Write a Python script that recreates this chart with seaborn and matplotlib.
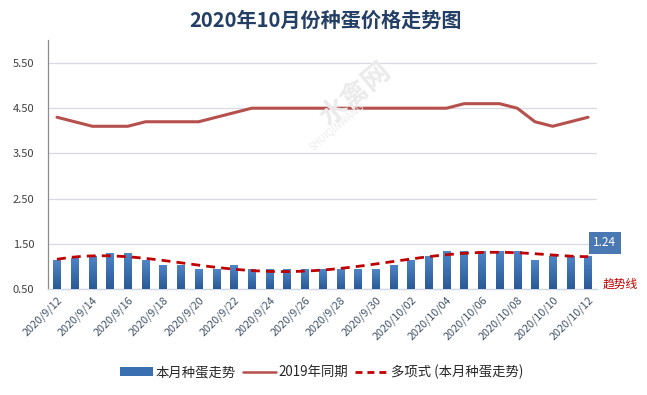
import numpy as np
import pandas as pd
import matplotlib
matplotlib.use("Agg")
import matplotlib.pyplot as plt
import seaborn as sns
from matplotlib.colors import LinearSegmentedColormap
from matplotlib.patches import Patch
from matplotlib.lines import Line2D

# ---- data ----
dates = ["2020/9/12", "2020/9/13", "2020/9/14", "2020/9/15", "2020/9/16", "2020/9/17",
         "2020/9/18", "2020/9/19", "2020/9/20", "2020/9/21", "2020/9/22", "2020/9/23",
         "2020/9/24", "2020/9/25", "2020/9/26", "2020/9/27", "2020/9/28", "2020/9/29",
         "2020/9/30", "2020/10/01", "2020/10/02", "2020/10/03", "2020/10/04", "2020/10/05",
         "2020/10/06", "2020/10/07", "2020/10/08", "2020/10/09", "2020/10/10", "2020/10/11",
         "2020/10/12"]
this_month = [1.14, 1.19, 1.24, 1.30, 1.30, 1.14, 1.04, 1.04, 0.94, 0.94, 1.04, 0.94,
              0.94, 0.94, 0.94, 0.94, 0.94, 0.94, 0.94, 1.04, 1.14, 1.24, 1.34, 1.34,
              1.34, 1.34, 1.34, 1.14, 1.24, 1.24, 1.24]
last_year = [4.3, 4.2, 4.1, 4.1, 4.1, 4.2, 4.2, 4.2, 4.2, 4.3, 4.4, 4.5, 4.5, 4.5,
             4.5, 4.5, 4.5, 4.5, 4.5, 4.5, 4.5, 4.5, 4.5, 4.6, 4.6, 4.6, 4.5, 4.2,
             4.1, 4.2, 4.3]
ytick_vals = [0.5, 1.5, 2.5, 3.5, 4.5, 5.5]
title = "2020年10月份种蛋价格走势图"
legend_labels = ["本月种蛋走势", "2019年同期", "多项式 (本月种蛋走势)"]
last_label = "1.24"
trend_text = "趋势线"

df = pd.DataFrame({"date": dates, "price": this_month, "ly": last_year})
df["idx"] = np.arange(len(df))

sns.set_theme(style="white")
plt.rcParams["font.family"] = ["Noto Sans CJK SC", "DejaVu Sans"]

YMIN, YMAX = 0.5, 6.0

fig = plt.figure(figsize=(6.47, 3.95), dpi=100)
ax = fig.add_axes([0.0744, 0.2684, 0.8482, 0.6293])

# bars
sns.barplot(data=df, x="date", y="price", color="#3a6fb2", width=0.42,
            ax=ax, zorder=3, saturation=1)

# gradient fill for bars
cmap = LinearSegmentedColormap.from_list("g", ["#2a5996", "#4f86c8"])
grad = np.linspace(0, 1, 64).reshape(-1, 1)
for p in list(ax.patches):
    x0, y0 = p.get_x(), p.get_y()
    w, h = p.get_width(), p.get_height()
    lo = max(y0, YMIN)
    im = ax.imshow(grad, extent=[x0, x0 + w, lo, y0 + h], origin="lower",
                   cmap=cmap, aspect="auto", zorder=3.1)
    im.set_clip_path(p)

# last year's line
sns.lineplot(data=df, x="idx", y="ly", color="#b5504d", lw=2.2, ax=ax, zorder=4)

# polynomial trendline
sns.regplot(data=df, x="idx", y="price", order=6, ci=None, scatter=False,
            truncate=True, ax=ax,
            line_kws=dict(color="#c00000", lw=2.0, ls=(0, (3.2, 2.2)), zorder=5))

ax.set_xlim(-0.5, len(dates) - 0.5)
ax.set_ylim(YMIN, YMAX)
ax.set_yticks(ytick_vals)
ax.set_yticklabels([f"{v:.2f}" for v in ytick_vals], fontsize=8, color="#404040")
ax.set_xticks(np.arange(0, len(dates), 2))
ax.set_xticklabels(dates[::2], rotation=45, ha="right", va="top",
                   rotation_mode="anchor", fontsize=7.8, color="#44546a")
ax.tick_params(axis="both", length=0, pad=4)
ax.tick_params(axis="y", pad=10)
ax.set_xlabel("")
ax.set_ylabel("")
ax.grid(axis="y", color="#d9d9e4", lw=0.9, zorder=0)
ax.set_axisbelow(True)
for s in ["top", "right"]:
    ax.spines[s].set_visible(False)
ax.spines["left"].set_color("#8c8c8c")
ax.spines["left"].set_linewidth(0.9)
ax.spines["bottom"].set_color("#d0d8e8")
ax.spines["bottom"].set_linewidth(1.0)

# data label for last bar
ax.text(len(dates) - 1 + 0.3, 1.52, last_label, color="white", fontsize=8.5,
        ha="left", va="center", zorder=6,
        bbox=dict(boxstyle="square,pad=0.35", fc="#4a78b2", ec="none"))
ax.annotate(trend_text, xy=(0.932, 1 - 284 / 395),
            xycoords="figure fraction", color="#c00000", fontsize=8.5,
            ha="left", va="center")

# watermark
fig.text(0.55, 0.76, "水禽网", rotation=40, fontsize=20, color="#ebebeb",
         ha="center", va="center", zorder=0, fontweight="bold")
fig.text(0.52, 0.68, "SHUIQINWANG", rotation=40, fontsize=7, color="#ececec",
         ha="center", va="center", zorder=0)

fig.suptitle(title, x=0.503, y=0.975, fontsize=14.5, fontweight="bold",
             color="#243f66", va="top")

handles = [Patch(facecolor="#3a6fb2", edgecolor="none"),
           Line2D([], [], color="#b5504d", lw=1.8),
           Line2D([], [], color="#c00000", lw=2.0, ls=(0, (2.5, 1.8)))]
fig.legend(handles, legend_labels, loc="center", bbox_to_anchor=(0.497, 0.058),
           ncol=3, frameon=False, fontsize=9.6, handlelength=2.5,
           handleheight=0.6, columnspacing=0.5, handletextpad=0.2,
           labelcolor="#262626")

fig.savefig("out.png", dpi=100)
